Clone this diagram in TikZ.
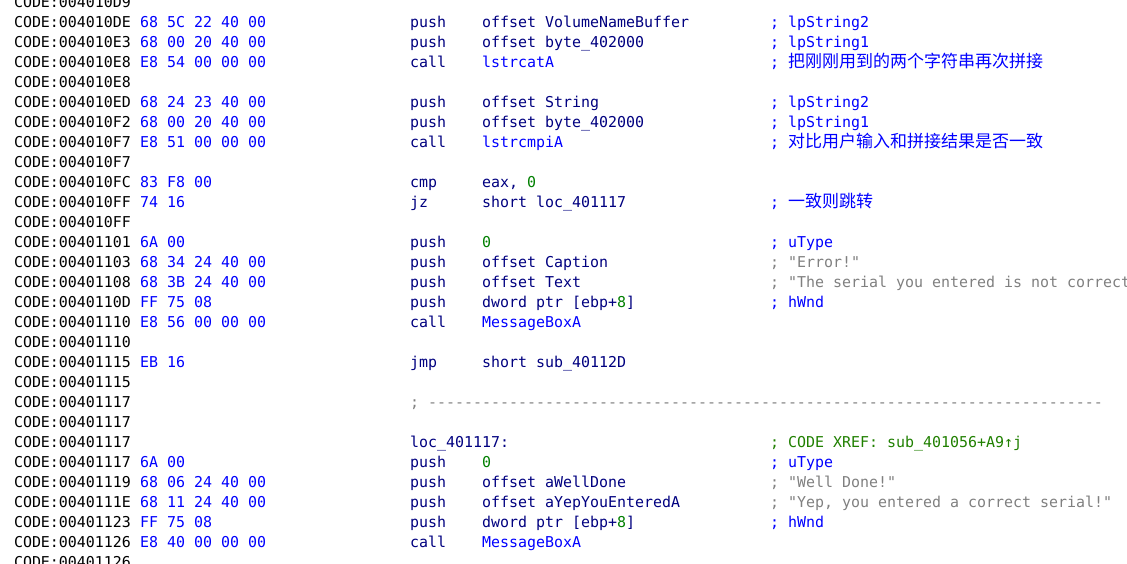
\documentclass[tikz,border=0pt]{standalone}
\usepackage{fontspec}
\setmonofont{DejaVu Sans Mono}
\newfontfamily\cjkfont{Noto Sans CJK SC}
\newcommand\zh{\cjkfont\fontsize{17pt}{20pt}\selectfont}
\definecolor{navyc}{HTML}{000080}
\definecolor{hexblue}{HTML}{0000FF}
\definecolor{fnblue}{HTML}{0000FF}
\definecolor{cmblue}{HTML}{0000FF}
\definecolor{strgray}{HTML}{808080}
\definecolor{numgreen}{HTML}{008000}
\definecolor{xrgreen}{HTML}{208000}
\tikzset{
  txt/.style={anchor=base west, inner sep=0pt, outer sep=0pt,
    font=\ttfamily\fontsize{14.95pt}{20pt}\selectfont},
  addrst/.style={txt, text=black},
  hexst/.style={txt, text=hexblue},
  mnst/.style={txt, text=navyc},
  opst/.style={txt, text=navyc},
  cmst/.style={txt, text=cmblue},
  strst/.style={txt, text=strgray},
  xrst/.style={txt, text=xrgreen},
  sepst/.style={txt, text=strgray},
}
\newcommand\yy[1]{-7.2-20*#1}
\newcommand\La[2]{\node[addrst] (a#1) at (14,{\yy{#1}}) {CODE:#2};}
\newcommand\Lb[3]{\node[addrst] (a#1) at (14,{\yy{#1}}) {CODE:#2};
  \node[hexst] (b#1) at (140,{\yy{#1}}) {#3};}
\newcommand\Ins[3]{\node[mnst] (m#1) at (410,{\yy{#1}}) {#2};
  \node[opst] (o#1) at (482,{\yy{#1}}) {#3};}
\newcommand\Cm[3]{\node[#2] (c#1) at (770,{\yy{#1}}) {#3};}
\newcommand\num[1]{\textcolor{numgreen}{#1}}
\newcommand\fn[1]{\textcolor{fnblue}{#1}}
\begin{document}
\begin{tikzpicture}[x=1pt,y=1pt]
\fill[white] (0,0) rectangle (1127,-563);
\useasboundingbox (0,0) rectangle (1127,-563);
\La{0}{004010D9}
\Lb{1}{004010DE}{68 5C 22 40 00}\Ins{1}{push}{offset VolumeNameBuffer}\Cm{1}{cmst}{; lpString2}
\Lb{2}{004010E3}{68 00 20 40 00}\Ins{2}{push}{offset byte\_402000}\Cm{2}{cmst}{; lpString1}
\Lb{3}{004010E8}{E8 54 00 00 00}\Ins{3}{call}{\fn{lstrcatA}}\Cm{3}{cmst}{; {\zh 把刚刚用到的两个字符串再次拼接}}
\La{4}{004010E8}
\Lb{5}{004010ED}{68 24 23 40 00}\Ins{5}{push}{offset String}\Cm{5}{cmst}{; lpString2}
\Lb{6}{004010F2}{68 00 20 40 00}\Ins{6}{push}{offset byte\_402000}\Cm{6}{cmst}{; lpString1}
\Lb{7}{004010F7}{E8 51 00 00 00}\Ins{7}{call}{\fn{lstrcmpiA}}\Cm{7}{cmst}{; {\zh 对比用户输入和拼接结果是否一致}}
\La{8}{004010F7}
\Lb{9}{004010FC}{83 F8 00}\Ins{9}{cmp}{eax, \num{0}}
\Lb{10}{004010FF}{74 16}\Ins{10}{jz}{short loc\_401117}\Cm{10}{cmst}{; {\zh 一致则跳转}}
\La{11}{004010FF}
\Lb{12}{00401101}{6A 00}\Ins{12}{push}{\num{0}}\Cm{12}{cmst}{; uType}
\Lb{13}{00401103}{68 34 24 40 00}\Ins{13}{push}{offset Caption}\Cm{13}{strst}{; "Error!"}
\Lb{14}{00401108}{68 3B 24 40 00}\Ins{14}{push}{offset Text}\Cm{14}{strst}{; "The serial you entered is not correct}
\Lb{15}{0040110D}{FF 75 08}\Ins{15}{push}{dword ptr [ebp+\num{8}]}\Cm{15}{cmst}{; hWnd}
\Lb{16}{00401110}{E8 56 00 00 00}\Ins{16}{call}{\fn{MessageBoxA}}
\La{17}{00401110}
\Lb{18}{00401115}{EB 16}\Ins{18}{jmp}{short sub\_40112D}
\La{19}{00401115}
\La{20}{00401117}
\node[sepst] (sep) at (410,{\yy{20}}) {; ---------------------------------------------------------------------------};
\La{21}{00401117}
\La{22}{00401117}
\node[mnst] (lbl) at (410,{\yy{22}}) {loc\_401117:};
\Cm{22}{xrst}{; CODE XREF: sub\_401056+A9↑j}
\Lb{23}{00401117}{6A 00}\Ins{23}{push}{\num{0}}\Cm{23}{cmst}{; uType}
\Lb{24}{00401119}{68 06 24 40 00}\Ins{24}{push}{offset aWellDone}\Cm{24}{strst}{; "Well Done!"}
\Lb{25}{0040111E}{68 11 24 40 00}\Ins{25}{push}{offset aYepYouEnteredA}\Cm{25}{strst}{; "Yep, you entered a correct serial!"}
\Lb{26}{00401123}{FF 75 08}\Ins{26}{push}{dword ptr [ebp+\num{8}]}\Cm{26}{cmst}{; hWnd}
\Lb{27}{00401126}{E8 40 00 00 00}\Ins{27}{call}{\fn{MessageBoxA}}
\La{28}{00401126}
\end{tikzpicture}
\end{document}
